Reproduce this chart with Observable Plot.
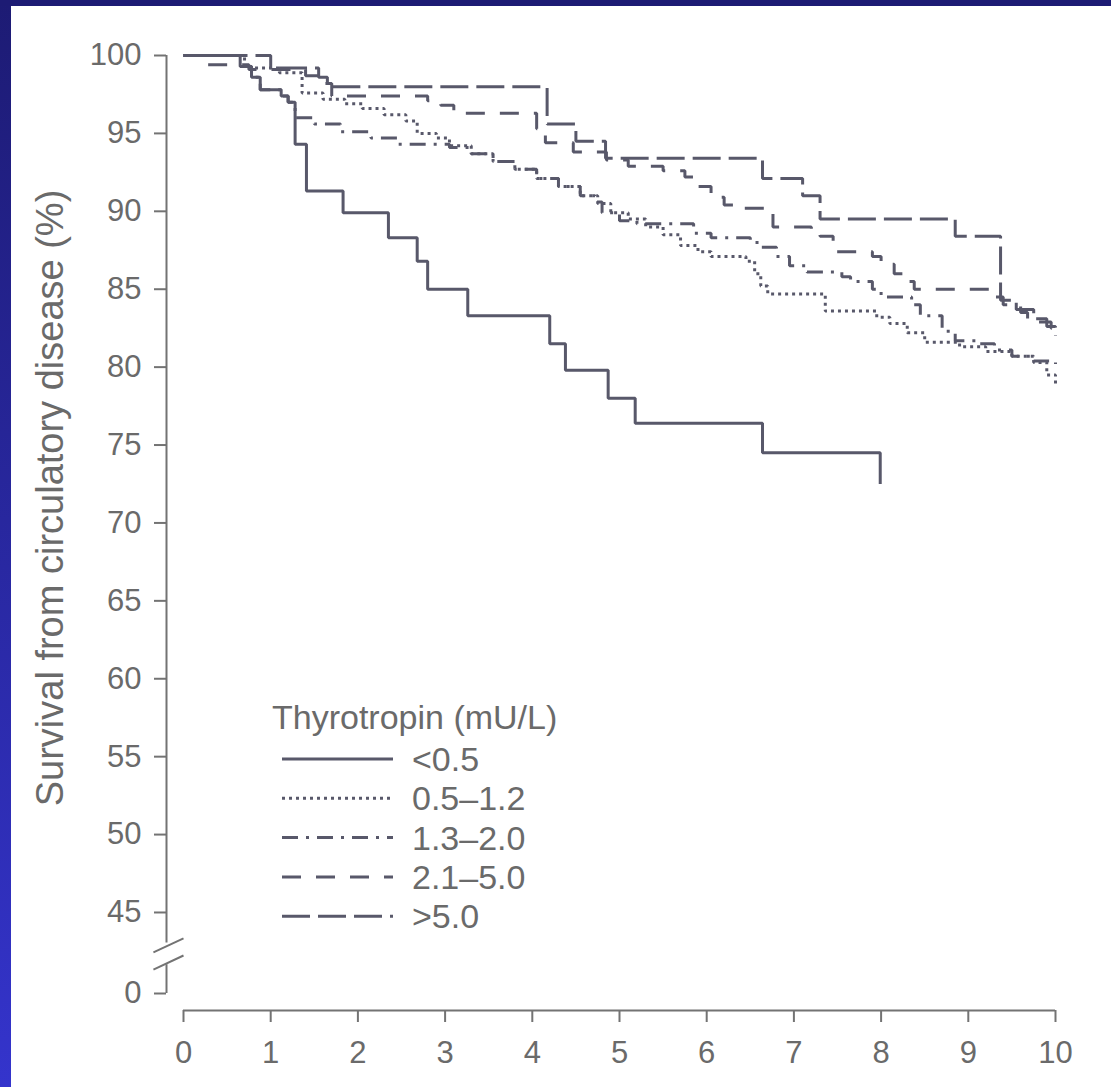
<!DOCTYPE html>
<html><head><meta charset="utf-8">
<script src="https://cdn.jsdelivr.net/npm/d3@7"></script>
<script src="https://cdn.jsdelivr.net/npm/@observablehq/plot@0.6"></script>
<style>
html,body{margin:0;padding:0;background:#fff;}
#wrap{position:relative;width:1111px;height:1087px;overflow:hidden;background:#fff;}
#wrap svg{position:absolute;left:0;top:0;}
#bl{position:absolute;z-index:5;left:0;top:0;width:11px;height:1087px;background:linear-gradient(#1d1b74,#3434cc);}
#bt{position:absolute;z-index:5;left:0;top:0;width:1111px;height:6px;background:#1d1b74;}
</style></head><body><div id="wrap"><div id="bl"></div><div id="bt"></div></div>
<script>
// ---- data (years, % surviving) ----
const xTicks = [0,1,2,3,4,5,6,7,8,9,10];
const yTicks = [0,45,50,55,60,65,70,75,80,85,90,95,100];
const yTitle = "Survival from circulatory disease (%)";
const legendTitle = "Thyrotropin (mU/L)";
const groupLabels = ["<0.5","0.5\u20131.2","1.3\u20132.0","2.1\u20135.0",">5.0"];

const tshBelow05 = [[0,100],[0.65,99.3],[0.78,98.6],[0.88,97.8],[1.12,97.4],[1.2,97.0],[1.28,94.3],[1.41,91.3],[1.83,89.9],[2.35,88.3],[2.68,86.8],[2.8,85.0],[3.26,83.3],[4.2,81.5],[4.38,79.8],[4.87,78.0],[5.18,76.4],[6.64,74.5],[7.99,72.5]];
const tsh05to12 = [[0,100],[0.7,99.2],[1.1,98.9],[1.36,97.6],[1.6,97.2],[1.85,96.9],[2.05,96.6],[2.3,96.2],[2.55,95.8],[2.68,95.0],[2.9,94.7],[3.05,94.2],[3.3,93.7],[3.55,93.2],[3.8,92.7],[4.05,92.1],[4.3,91.6],[4.55,91.0],[4.75,90.5],[4.9,89.9],[5.1,89.5],[5.3,89.0],[5.5,88.5],[5.7,87.8],[5.9,87.4],[6.05,87.1],[6.45,86.8],[6.55,86.0],[6.62,85.2],[6.7,84.7],[7.36,83.6],[7.95,83.2],[8.1,82.8],[8.3,82.2],[8.5,81.6],[8.9,81.3],[9.2,81.0],[9.5,80.7],[9.75,80.3],[9.9,79.5],[10,78.7]];
const tsh13to20 = [[0,100],[0.7,99.3],[0.78,98.6],[0.88,97.8],[1.12,97.4],[1.2,97.0],[1.28,96.0],[1.5,95.6],[1.8,95.1],[2.15,94.7],[2.45,94.3],[3.05,94.1],[3.3,93.7],[3.55,93.2],[3.8,92.7],[4.05,92.1],[4.3,91.6],[4.55,91.0],[4.72,90.6],[4.8,89.9],[5.0,89.4],[5.2,89.2],[5.85,88.6],[6.05,88.3],[6.5,88.0],[6.6,87.7],[6.8,87.1],[6.95,86.5],[7.15,86.1],[7.55,85.8],[7.65,85.5],[7.9,85.0],[8.0,84.5],[8.35,84.0],[8.45,83.3],[8.7,82.3],[8.85,81.7],[9.1,81.5],[9.3,81.1],[9.5,80.7],[9.75,80.4],[10,80.2]];
const tsh21to50 = [[0,100],[0.2,99.4],[0.75,99.1],[1.4,98.7],[1.55,98.2],[1.7,97.4],[2.8,97.1],[2.95,96.8],[3.1,96.3],[4.05,95.3],[4.15,94.4],[4.47,93.8],[4.85,93.3],[5.1,92.9],[5.5,92.6],[5.75,92.2],[5.9,91.6],[6.05,90.9],[6.2,90.4],[6.35,90.2],[6.76,89.0],[7.2,88.8],[7.3,88.4],[7.45,87.4],[7.9,87.1],[8.0,86.6],[8.15,86.0],[8.25,85.5],[8.38,85.0],[9.3,84.5],[9.4,84.0],[9.6,83.5],[9.68,82.9],[9.95,82.5],[10,82.0]];
const tshAbove50 = [[0,100],[1.0,99.2],[1.55,98.6],[1.65,98.0],[4.17,95.6],[4.5,94.5],[4.84,93.4],[6.64,92.1],[7.1,91.0],[7.3,89.5],[8.85,88.4],[9.37,84.3],[9.55,83.7],[9.75,83.1],[9.9,82.6],[10,82.0]];

// broken y axis: the 0–45 stretch is compressed into a short gap
const yGap = 5.2;                 // display units used by the 0–45 stretch
const breakTop = 28, breakBottom = 16;
const axisBreak = [{x1:-0.345,y1:22.8,x2:0,y2:30.6},{x1:-0.345,y1:13.3,x2:0,y2:21.1}];
const yDisp = v => v >= 45 ? v : 45 - (45 - v) / 45 * yGap;
const yBack = u => u >= 45 ? u : 45 - (45 - u) * 45 / yGap;

// ---- styles ----
const FONT = "'Liberation Sans', Arial, Helvetica, sans-serif";
const LINE = "#58586a";
const AXIS = "#737373";
const TEXT = "#6a6a6a";
const dashes = [null, "3,4", "16,8,3,8", "19,15", "28,8"];
const seriesData = [tshBelow05, tsh05to12, tsh13to20, tsh21to50, tshAbove50];

const curveMarks = seriesData.map((d,i) => Plot.line(d, {
  x: p => p[0], y: p => yDisp(p[1]), curve: "step-after",
  stroke: LINE, strokeWidth: 3, strokeDasharray: dashes[i] || undefined,
  strokeLinecap: "butt", strokeLinejoin: "miter"
}));

const plot = Plot.plot({
  width: 1111, height: 1087,
  marginLeft: 183, marginRight: 56, marginTop: 55, marginBottom: 77,
  style: {background: "transparent", fontFamily: FONT, color: TEXT, overflow: "visible"},
  x: {domain: [0,10]},
  y: {domain: [yDisp(0), 100], range: [993, 55]},
  marks: [
    Plot.axisY({ticks: yTicks.map(yDisp), tickSize: 12, tickPadding: 13, dx: -17, fontSize: 31, stroke: AXIS, strokeWidth: 2, fill: TEXT, label: null, tickFormat: d => String(Math.round(yBack(d)))}),
    Plot.axisX({ticks: xTicks, tickSize: 12, tickPadding: 18, fontSize: 31, stroke: AXIS, strokeWidth: 2, fill: TEXT, label: null, tickFormat: d => String(d)}),
    Plot.ruleX([0], {y1: yDisp(breakTop), y2: 100, dx: -17, stroke: AXIS, strokeWidth: 2}),
    Plot.ruleX([0], {y1: yDisp(0), y2: yDisp(breakBottom), dx: -17, stroke: AXIS, strokeWidth: 2}),
    Plot.link(axisBreak, {x1: "x1", y1: d => yDisp(d.y1), x2: "x2", y2: d => yDisp(d.y2), stroke: AXIS, strokeWidth: 2}),
    Plot.ruleY([yDisp(0)], {x1: 0, x2: 10, dy: 17, stroke: AXIS, strokeWidth: 2}),
    Plot.text([yTitle], {frameAnchor: "left", rotate: -90, dx: -133, dy: -35, fontSize: 38, fill: TEXT, textAnchor: "middle"}),
    ...curveMarks
  ]
});

// legend inside the plot area
const svg = d3.select(plot);
const lg = svg.append("g").attr("font-family", FONT).attr("fill", TEXT)
  .attr("font-size", 34).attr("text-anchor", "start");
lg.append("text").attr("x", 272).attr("y", 729).text(legendTitle);
groupLabels.forEach((lab, i) => {
  const y = 759 + i * 39.3;
  lg.append("line").attr("x1", 282).attr("x2", 393).attr("y1", y).attr("y2", y)
    .attr("stroke", LINE).attr("stroke-width", 3)
    .attr("stroke-dasharray", dashes[i] || null);
  lg.append("text").attr("x", 412).attr("y", y + 12).text(lab);
});

document.getElementById("wrap").insertBefore(plot, document.getElementById("bl"));
</script>
</body></html>
